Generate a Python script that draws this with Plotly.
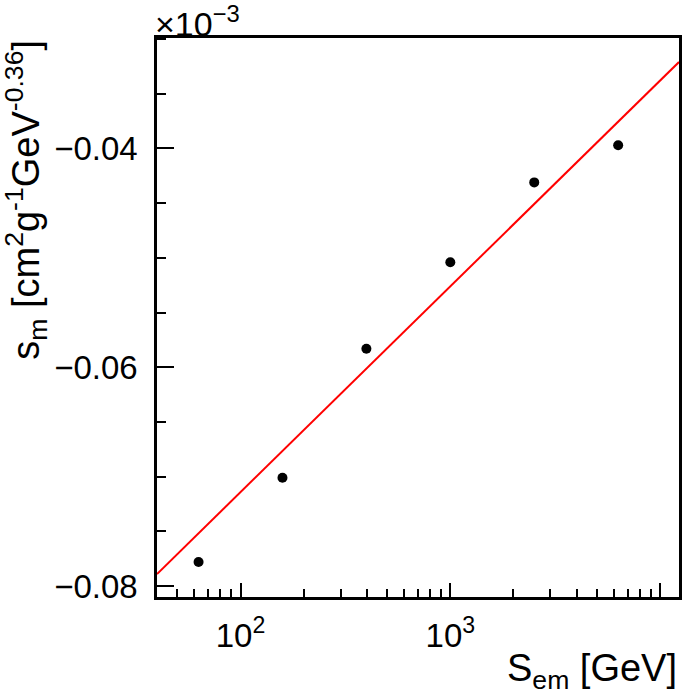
import plotly.graph_objects as go

# Data
s_em = [63.1, 158.5, 398.1, 1000.0, 2512.0, 6310.0]          # GeV
s_m = [-0.0778, -0.0701, -0.0583, -0.0504, -0.0431, -0.0397]  # x10^-3 units
fit_x = [40.0, 12300.0]
fit_y = [-0.0789, -0.0321]

x_tickvals = [100, 1000, 10000]
x_ticktext = ["10<sup>2</sup>", "10<sup>3</sup>", "10<sup>4</sup>"]
y_tickvals = [-0.08, -0.06, -0.04]
y_ticktext = ["\u22120.08", "\u22120.06", "\u22120.04"]

FONT = "Liberation Sans, Arial, Helvetica, sans-serif"

fig = go.Figure()
fig.add_trace(go.Scatter(x=fit_x, y=fit_y, mode="lines",
                         line=dict(color="#ff0000", width=2), showlegend=False))
fig.add_trace(go.Scatter(x=s_em, y=s_m, mode="markers",
                         marker=dict(color="black", size=10), showlegend=False))

fig.update_layout(
    width=685, height=697,
    margin=dict(l=157, r=3, t=38, b=100),
    plot_bgcolor="white", paper_bgcolor="white",
    font=dict(family=FONT, color="black", size=33),
    xaxis=dict(
        type="log", range=[1.602, 4.09],
        tickvals=x_tickvals, ticktext=x_ticktext,
        ticks="inside", ticklen=14, tickwidth=2, tickcolor="black",
        showline=True, linecolor="black", linewidth=2.5, mirror=True,
        showgrid=False, zeroline=False,
        tickfont=dict(size=33), ticklabelstandoff=8,
        minor=dict(ticks="inside", ticklen=8, tickwidth=1.5, tickcolor="black",
                   tickvals=[50, 60, 70, 80, 90, 200, 300, 400, 500, 600, 700, 800, 900,
                             2000, 3000, 4000, 5000, 6000, 7000, 8000, 9000],
                   showgrid=False),
    ),
    yaxis=dict(
        range=[-0.0810, -0.0299],
        tickvals=y_tickvals, ticktext=y_ticktext,
        ticks="inside", ticklen=17, tickwidth=2, tickcolor="black",
        showline=True, linecolor="black", linewidth=2.5, mirror=True,
        showgrid=False, zeroline=False,
        tickfont=dict(size=33), ticklabelstandoff=10,
        minor=dict(ticks="inside", ticklen=9, tickwidth=1.5, tickcolor="black",
                   dtick=0.005, tick0=0, showgrid=False),
    ),
    annotations=[
        dict(text="\u00d710<sup>\u22123</sup>", xref="paper", yref="paper",
             x=0, y=1, xanchor="left", yanchor="bottom", showarrow=False,
             font=dict(size=34, family=FONT), xshift=-4, yshift=-7),
        dict(text="s<sub>m</sub> [cm<sup>2</sup>g<sup>-1</sup>GeV<sup>-0.36</sup>]",
             xref="paper", yref="paper", x=(25 - 157) / 525, y=1,
             xanchor="center", yanchor="top", textangle=-90, showarrow=False,
             font=dict(size=38, family=FONT)),
        dict(text="S<sub>em</sub> [GeV]", xref="paper", yref="paper",
             x=1, y=-100 / 559, xanchor="right", yanchor="bottom", showarrow=False,
             font=dict(size=38, family=FONT)),
    ],
)

fig.write_html("out.html", config={"displayModeBar": False},
               post_script="document.body.style.margin='0';document.body.style.padding='0';document.body.style.overflow='hidden';")
